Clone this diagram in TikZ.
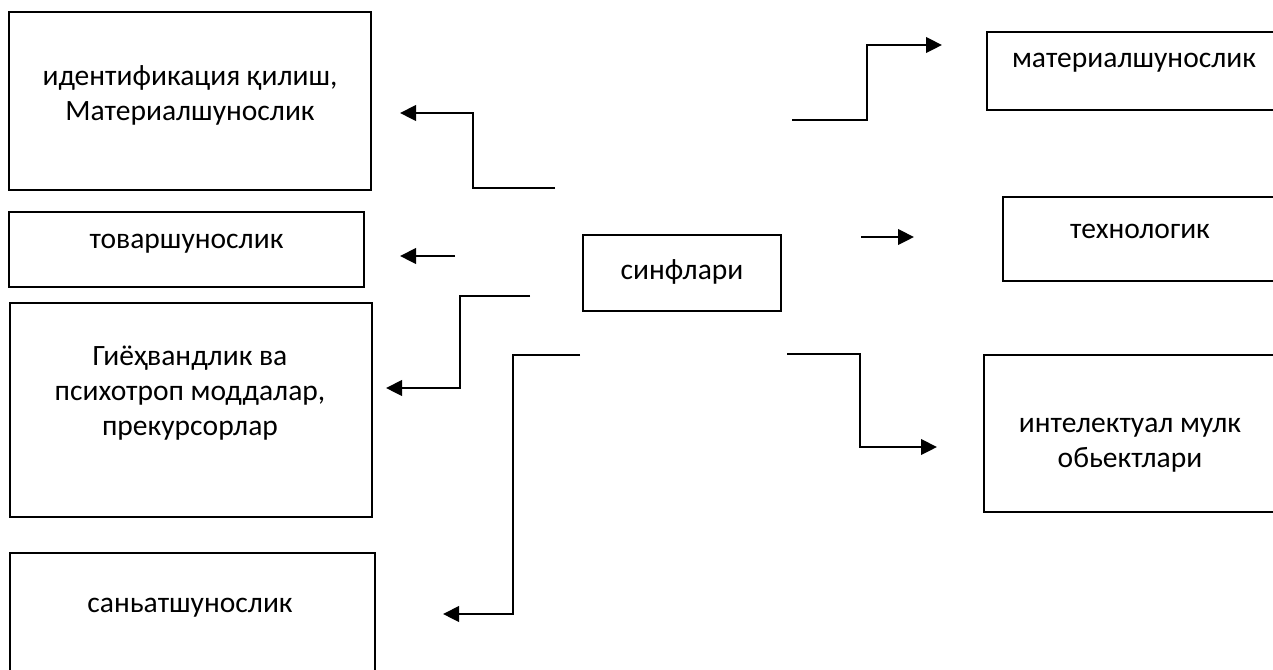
\documentclass[tikz,border=0pt]{standalone}
\usepackage{fontspec}
\setmainfont{Carlito}
\usetikzlibrary{arrows.meta}
\tikzset{
  box/.style={line width=1.2pt},
  txt/.style={align=center, font=\fontsize{16.8pt}{19.9pt}\selectfont},
  arr/.style={line width=1.3pt, -{Triangle[length=3.2mm,width=3.1mm]}}
}
\begin{document}
\begin{tikzpicture}
			\useasboundingbox (0,0) rectangle (25.46,-13.38);
			\clip (0,0) rectangle (25.46,-13.38);
			% left boxes
			\draw[box] (0.18,-0.24) rectangle (7.42,-3.8);
			\draw[box] (0.18,-4.24) rectangle (7.28,-5.74);
			\draw[box] (0.2,-6.06) rectangle (7.44,-10.34);
			\draw[box] (0.2,-11.06) rectangle (7.5,-13.8);
			% middle box
			\draw[box] (11.66,-4.7) rectangle (15.62,-6.22);
			% right boxes
			\draw[box] (19.74,-0.64) rectangle (26,-2.2);
			\draw[box] (20.06,-3.94) rectangle (26,-5.62);
			\draw[box] (19.68,-7.1) rectangle (26,-10.24);
			\node[txt] (ident) at (3.8,-1.9) {идентификация қилиш,\\Материалшунослик};
			\node[txt] (tovar) at (3.73,-4.88) {товаршунослик};
			\node[txt] (giyoh) at (3.8,-7.86) {Гиёҳвандлик ва\\психотроп моддалар,\\прекурсорлар};
			\node[txt] (sanat) at (3.8,-12.16) {саньатшунослик};
			\node[txt] (sinf) at (13.64,-5.44) {синфлари};
			\node[txt] (mater) at (22.68,-1.25) {материалшунослик};
			\node[txt] (texn) at (22.8,-4.62) {технологик};
			\node[txt] (intel) at (22.6,-8.9) {интелектуал мулк\\обьектлари};
			\coordinate (A1) at (11.1,-3.76);
			\coordinate (A1p) at (8.0,-2.26);
			\coordinate (A2) at (9.1,-5.12);
			\coordinate (A2p) at (8.0,-5.12);
			\coordinate (A3) at (10.6,-5.92);
			\coordinate (A3p) at (7.72,-7.76);
			\coordinate (A4) at (11.6,-7.1);
			\coordinate (A4p) at (8.86,-12.28);
			\coordinate (B1) at (15.84,-2.4);
			\coordinate (B1p) at (18.84,-0.9);
			\coordinate (B2) at (17.22,-4.74);
			\coordinate (B2p) at (18.28,-4.74);
			\coordinate (B3) at (15.74,-7.08);
			\coordinate (B3p) at (18.74,-8.94);
			\draw[arr] (A1)--(9.46,-3.76)|-(A1p);
			\draw[arr] (A2)--(A2p);
			\draw[arr] (A3)--(9.2,-5.92)|-(A3p);
			\draw[arr] (A4)--(10.26,-7.1)|-(A4p);
			\draw[arr] (B1)--(17.34,-2.4)|-(B1p);
			\draw[arr] (B2)--(B2p);
			\draw[arr] (B3)--(17.2,-7.08)|-(B3p);
\end{tikzpicture}
\end{document}
